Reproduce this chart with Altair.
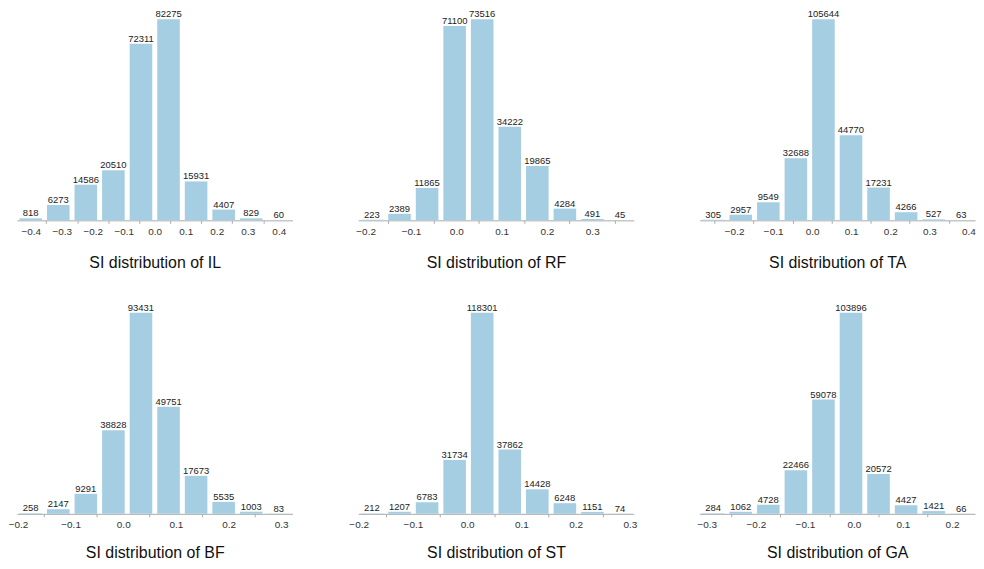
import altair as alt
import pandas as pd

# ---- data ----
IL_counts = [818, 6273, 14586, 20510, 72311, 82275, 15931, 4407, 829, 60]
IL_edges = [-0.4444, -0.3556, -0.2667, -0.1778, -0.0889, 0.0, 0.0889, 0.1778, 0.2667, 0.3556, 0.4444]
IL_labels = [-0.4, -0.3, -0.2, -0.1, 0.0, 0.1, 0.2, 0.3, 0.4]
IL_minor = [-0.35, -0.25, -0.15, -0.05, 0.05, 0.15, 0.25, 0.35]

RF_counts = [223, 2389, 11865, 71100, 73516, 34222, 19865, 4284, 491, 45]
RF_edges = [-0.2164, -0.1556, -0.0948, -0.0340, 0.0268, 0.0876, 0.1484, 0.2092, 0.2700, 0.3308, 0.3916]
RF_labels = [-0.2, -0.1, 0.0, 0.1, 0.2, 0.3, 0.4]
RF_minor = [-0.15, -0.05, 0.05, 0.15, 0.25, 0.35]

TA_counts = [305, 2957, 9549, 32688, 105644, 44770, 17231, 4266, 527, 63]
TA_edges = [-0.2889, -0.2183, -0.1477, -0.0771, -0.0065, 0.0641, 0.1347, 0.2053, 0.2759, 0.3465, 0.4171]
TA_labels = [-0.3, -0.2, -0.1, 0.0, 0.1, 0.2, 0.3, 0.4]
TA_minor = [-0.25, -0.15, -0.05, 0.05, 0.15, 0.25, 0.35]

BF_counts = [258, 2147, 9291, 38828, 93431, 49751, 17673, 5535, 1003, 83]
BF_edges = [-0.2019, -0.1496, -0.0972, -0.0449, 0.0075, 0.0598, 0.1122, 0.1645, 0.2169, 0.2692, 0.3215]
BF_labels = [-0.2, -0.1, 0.0, 0.1, 0.2, 0.3]
BF_minor = [-0.15, -0.05, 0.05, 0.15, 0.25]

ST_counts = [212, 1207, 6783, 31734, 118301, 37862, 14428, 6248, 1151, 74]
ST_edges = [-0.2009, -0.1501, -0.0993, -0.0485, 0.0023, 0.0531, 0.1039, 0.1547, 0.2055, 0.2563, 0.3071]
ST_labels = [-0.2, -0.1, 0.0, 0.1, 0.2, 0.3]
ST_minor = [-0.15, -0.05, 0.05, 0.15, 0.25]

GA_counts = [284, 1062, 4728, 22466, 59078, 103896, 20572, 4427, 1421, 66]
GA_edges = [-0.3151, -0.2589, -0.2027, -0.1465, -0.0903, -0.0341, 0.0221, 0.0783, 0.1345, 0.1907, 0.2469]
GA_labels = [-0.3, -0.2, -0.1, 0.0, 0.1, 0.2]
GA_minor = [-0.25, -0.15, -0.05, 0.05, 0.15]

FONT = "Liberation Sans"
BAR = "#a6cee3"
W, H = 277, 202


def make_panel(name, edges, counts, labels, minor, title_pad):
    df = pd.DataFrame({
        "lo": edges[:-1],
        "hi": edges[1:],
        "count": counts,
    })
    df["mid"] = (df["lo"] + df["hi"]) / 2
    xscale = alt.Scale(domain=[edges[0], edges[-1]], nice=False, zero=False)
    yscale = alt.Scale(domain=[0, max(counts)], nice=False, zero=True)

    bars = alt.Chart(df).mark_bar(color=BAR, xOffset=2.5, x2Offset=-2.5).encode(
        x=alt.X("lo:Q", scale=xscale,
                axis=alt.Axis(values=labels, format=".1f", ticks=False, grid=False,
                              orient="bottom", labelFlush=False, labelOverlap=False,
                              labelPadding=6, titlePadding=title_pad,
                              title=f"SI distribution of {name}")),
        x2="hi:Q",
        y=alt.Y("count:Q", scale=yscale, axis=None),
        y2=alt.datum(0),
    )
    text = alt.Chart(df).mark_text(baseline="alphabetic", dy=-2, fontSize=9.5,
                                   font=FONT, color="#222").encode(
        x=alt.X("mid:Q", scale=xscale,
                axis=alt.Axis(values=minor, labels=False, domain=False, ticks=True,
                              tickSize=3, grid=False, orient="bottom", title=None)),
        y=alt.Y("count:Q", scale=yscale, axis=None),
        text=alt.Text("count:Q", format="d"),
    )
    return alt.layer(bars, text).resolve_axis(x="independent").properties(width=W, height=H)


row1 = alt.hconcat(
    make_panel("IL", IL_edges, IL_counts, IL_labels, IL_minor, 18),
    make_panel("RF", RF_edges, RF_counts, RF_labels, RF_minor, 18),
    make_panel("TA", TA_edges, TA_counts, TA_labels, TA_minor, 18),
    spacing=66, bounds="flush",
)
row2 = alt.hconcat(
    make_panel("BF", BF_edges, BF_counts, BF_labels, BF_minor, 15),
    make_panel("ST", ST_edges, ST_counts, ST_labels, ST_minor, 15),
    make_panel("GA", GA_edges, GA_counts, GA_labels, GA_minor, 15),
    spacing=66, bounds="flush",
)

chart = alt.vconcat(row1, row2, spacing=33).properties(
    padding={"left": 0, "top": 0, "right": 0, "bottom": 0}
).configure_view(stroke=None).configure_axis(
    labelFont=FONT, labelFontSize=10, labelColor="#333",
    domainColor="#aaa", tickColor="#aaa",
    titleFont=FONT, titleFontSize=16, titleFontWeight="normal",
    titleColor="#111",
)

chart.save("out.html", embed_options={"renderer": "svg", "actions": False})
